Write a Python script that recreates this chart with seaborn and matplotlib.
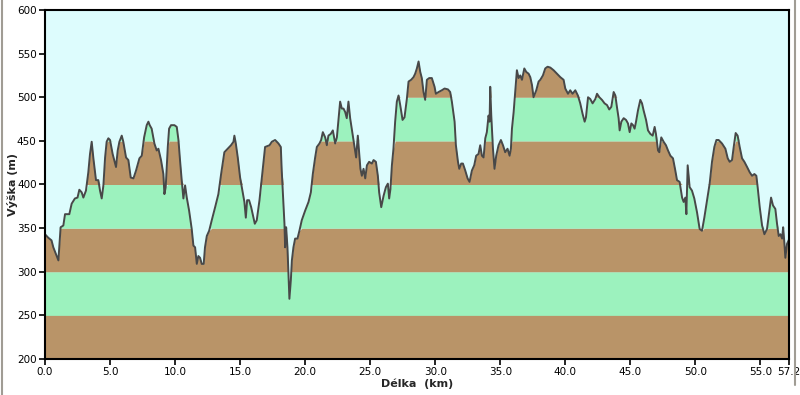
import numpy as np
import pandas as pd
import matplotlib
matplotlib.use("Agg")
import matplotlib.pyplot as plt
import seaborn as sns
from matplotlib.lines import Line2D

# Elevation profile
dist_km = [
    0.0, 0.25, 0.5, 0.64, 0.85, 1.03, 1.2, 1.41, 1.54, 1.87, 2.05, 2.3, 2.5, 2.64, 2.82, 2.95,
    3.15, 3.33, 3.46, 3.59, 3.72, 3.92, 4.1, 4.23, 4.36, 4.49, 4.62, 4.74, 4.87, 5.0, 5.2, 5.46,
    5.59, 5.72, 5.9, 6.02, 6.23, 6.41, 6.59, 6.8, 7.0, 7.26, 7.44, 7.62, 7.82, 7.95, 8.05, 8.2,
    8.41, 8.59, 8.72, 8.92, 9.1, 9.18, 9.28, 9.44, 9.54, 9.69, 9.95, 10.13, 10.26, 10.38, 10.51,
    10.64, 10.77, 10.9, 11.08, 11.28, 11.41, 11.54, 11.67, 11.79, 11.92, 12.05, 12.2, 12.3, 12.44,
    12.62, 12.82, 13.08, 13.33, 13.54, 13.79, 14.05, 14.3, 14.49, 14.56, 14.67, 14.82, 15.0, 15.18,
    15.33, 15.44, 15.54, 15.69, 15.85, 15.97, 16.13, 16.28, 16.49, 16.67, 16.8, 16.92, 17.1, 17.26,
    17.44, 17.69, 17.95, 18.13, 18.2, 18.33, 18.41, 18.46, 18.54, 18.64, 18.72, 18.79, 18.9, 18.98,
    19.1, 19.23, 19.41, 19.56, 19.74, 20.0, 20.26, 20.44, 20.59, 20.77, 20.9, 21.1, 21.23, 21.36,
    21.54, 21.67, 21.79, 21.97, 22.13, 22.31, 22.44, 22.56, 22.69, 22.82, 22.95, 23.08, 23.2, 23.33,
    23.46, 23.72, 23.92, 24.05, 24.15, 24.25, 24.36, 24.49, 24.62, 24.75, 24.92, 25.13, 25.26, 25.44,
    25.59, 25.69, 25.85, 26.03, 26.21, 26.36, 26.46, 26.56, 26.67, 26.79, 26.92, 27.05, 27.18, 27.31,
    27.49, 27.64, 27.82, 27.95, 28.15, 28.33, 28.46, 28.59, 28.72, 28.85, 28.97, 29.1, 29.23, 29.36,
    29.54, 29.74, 29.95, 30.05, 30.26, 30.51, 30.72, 30.98, 31.15, 31.28, 31.49, 31.59, 31.75, 31.85,
    32.0, 32.13, 32.31, 32.49, 32.64, 32.82, 33.0, 33.15, 33.33, 33.46, 33.59, 33.72, 33.85, 33.97,
    34.1, 34.18, 34.23, 34.31, 34.44, 34.56, 34.69, 34.87, 35.05, 35.21, 35.38, 35.56, 35.72, 35.82,
    35.9, 36.03, 36.15, 36.28, 36.41, 36.54, 36.67, 36.85, 37.0, 37.18, 37.31, 37.44, 37.56, 37.77,
    37.95, 38.08, 38.28, 38.46, 38.64, 38.85, 39.1, 39.36, 39.62, 39.87, 40.0, 40.21, 40.38, 40.56,
    40.77, 40.97, 41.15, 41.33, 41.49, 41.59, 41.75, 41.92, 42.1, 42.31, 42.44, 42.62, 42.82, 43.02,
    43.21, 43.38, 43.54, 43.72, 43.85, 43.97, 44.1, 44.18, 44.31, 44.49, 44.67, 44.82, 44.95, 45.08,
    45.21, 45.33, 45.44, 45.59, 45.77, 45.9, 46.02, 46.21, 46.36, 46.54, 46.72, 46.87, 46.97, 47.13,
    47.23, 47.38, 47.56, 47.74, 47.9, 48.08, 48.28, 48.46, 48.59, 48.79, 48.98, 49.1, 49.23, 49.31,
    49.41, 49.56, 49.74, 49.92, 50.13, 50.33, 50.51, 50.69, 50.9, 51.1, 51.28, 51.46, 51.62, 51.79,
    52.05, 52.31, 52.49, 52.64, 52.82, 52.95, 53.1, 53.25, 53.41, 53.59, 53.77, 53.98, 54.18, 54.36,
    54.54, 54.69, 54.79, 54.95, 55.13, 55.31, 55.51, 55.72, 55.82, 55.97, 56.15, 56.28, 56.41, 56.54,
    56.67, 56.75, 56.85, 56.92, 57.05, 57.2,
]
elev_m = [
    343, 339, 336, 328, 320, 313, 351, 353, 366, 366, 378, 384, 385, 394, 391, 385,
    393, 414, 435, 449, 430, 405, 405, 393, 384, 399, 431, 449, 453, 451, 435, 420,
    439, 449, 456, 449, 431, 428, 408, 407, 416, 430, 433, 454, 468, 472, 468, 464,
    447, 439, 441, 428, 412, 389, 397, 443, 464, 468, 468, 466, 451, 428, 405,
    384, 399, 385, 370, 349, 330, 328, 309, 318, 316, 309, 309, 328, 341,
    347, 359, 374, 389, 412, 437, 441, 445, 449, 456, 447, 431, 408, 393,
    380, 362, 382, 382, 374, 366, 355, 359, 382, 408, 428, 443, 444, 445,
    449, 451, 447, 443, 416, 378, 355, 328, 351, 328, 297, 269, 290, 313,
    328, 338, 338, 347, 359, 370, 380, 391, 412, 431, 443, 447, 451, 460,
    454, 445, 456, 458, 462, 447, 454, 474, 495, 487, 487, 483, 476, 495,
    476, 451, 431, 456, 437, 418, 410, 418, 407, 422, 426, 424, 428, 426,
    410, 391, 374, 387, 397, 401, 384, 395, 422, 441, 472, 495, 502, 491,
    474, 477, 498, 518, 520, 523, 527, 533, 541, 529, 522, 506, 497, 520,
    522, 522, 512, 504, 506, 508, 510, 509, 506, 495, 472, 445, 426, 418,
    424, 424, 416, 407, 403, 416, 422, 433, 435, 445, 433, 431, 453, 460,
    479, 472, 512, 479, 441, 418, 433, 445, 451, 445, 437, 441, 433, 441,
    464, 483, 506, 531, 522, 525, 520, 533, 529, 527, 523, 514, 500, 508,
    518, 520, 525, 533, 535, 534, 531, 527, 523, 520, 510, 504, 508, 504,
    508, 502, 493, 481, 472, 477, 500, 498, 493, 498, 504, 500, 497, 493,
    491, 486, 489, 506, 502, 489, 476, 462, 472, 476, 474, 470, 460, 470,
    468, 464, 472, 485, 497, 493, 485, 474, 462, 458, 456, 466, 458, 439,
    437, 454, 449, 445, 439, 433, 430, 416, 405, 403, 385, 380, 385, 366,
    422, 397, 393, 384, 368, 349, 347, 362, 382, 401, 426, 443, 451, 451,
    447, 441, 430, 426, 428, 443, 459, 456, 443, 430, 426, 420, 414, 410,
    412, 410, 397, 374, 353, 343, 349, 374, 385, 376, 372, 355, 341, 343,
    338, 351, 332, 316, 332, 337,
]

x_ticks = [0, 5, 10, 15, 20, 25, 30, 35, 40, 45, 50, 55, 57.2]
x_tick_labels = ["0.0", "5.0", "10.0", "15.0", "20.0", "25.0", "30.0", "35.0",
                 "40.0", "45.0", "50.0", "55.0", "57.2"]
y_ticks = [200, 250, 300, 350, 400, 450, 500, 550, 600]
band_edges = [200, 250, 300, 350, 400, 450, 500, 550, 600]

BROWN = "#b99468"
GREEN = "#9cf2be"
SKY = "#ddfcfd"

df = pd.DataFrame({"dist": dist_km, "elev": elev_m})

sns.set_style("ticks")
plt.rcParams["font.family"] = ["DejaVu Sans"]

fig = plt.figure(figsize=(8, 3.95), dpi=100)
ax = fig.add_axes([45 / 800, 1 - 359 / 395, 744 / 800, 349 / 395])
ax.set_facecolor(SKY)

# alternating 50 m bands under the profile
x = df["dist"].to_numpy()
y = df["elev"].to_numpy()
for i, lo in enumerate(band_edges[:-1]):
    hi = band_edges[i + 1]
    top = np.clip(y, lo, hi)
    ax.fill_between(x, lo, top, color=BROWN if i % 2 == 0 else GREEN, lw=0)

sns.lineplot(data=df, x="dist", y="elev", ax=ax, color="#484848", lw=1.4)

ax.set_xlim(0, 57.2)
ax.set_ylim(200, 600)
ax.set_xticks(x_ticks)
ax.set_xticklabels(x_tick_labels)
ax.set_yticks(y_ticks)
ax.tick_params(axis="both", direction="out", length=4, width=1.2,
               labelsize=7.5, colors="black", pad=2)
for s in ax.spines.values():
    s.set_color("black")
    s.set_linewidth(1.5)

ax.set_xlabel("Délka  (km)", fontsize=8, fontweight="bold", labelpad=1)
ax.set_ylabel("Výška (m)", fontsize=8, fontweight="bold", labelpad=-1)

# window frame lines
fig.add_artist(Line2D([2 / 800, 2 / 800], [0, 1], color="#a09c94", lw=1.5))
fig.add_artist(Line2D([795 / 800, 795 / 800], [10 / 395, 1], color="#a09c94", lw=1.5))

fig.savefig("out.png", dpi=100)
